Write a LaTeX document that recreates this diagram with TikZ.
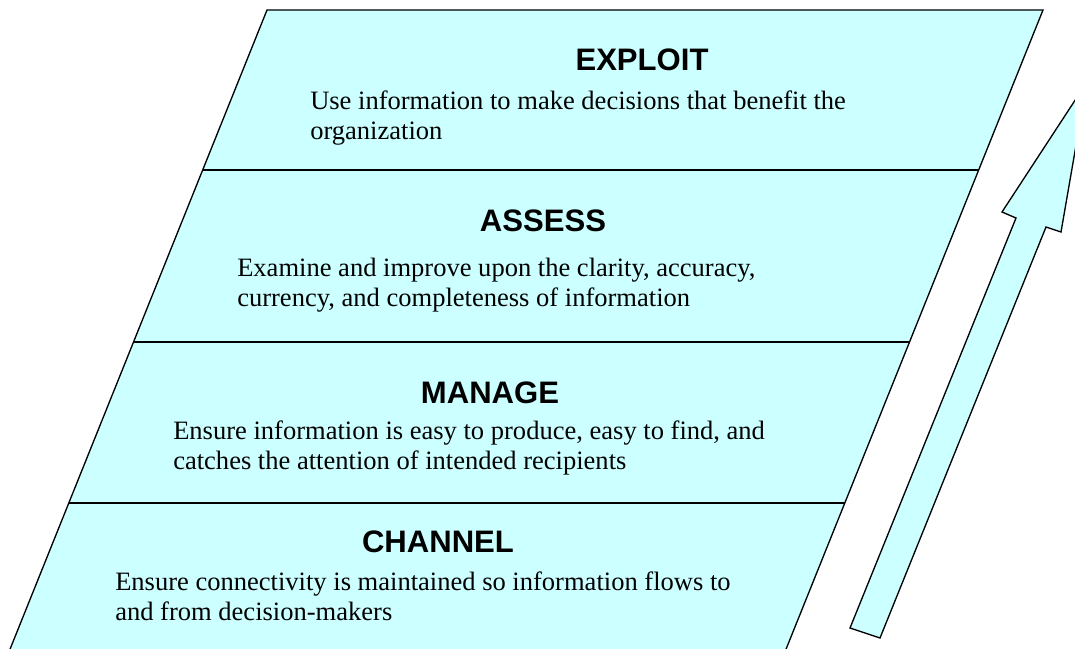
\documentclass[tikz,border=0pt]{standalone}
\usepackage{fontspec}
\setmainfont{Liberation Serif}
\newfontfamily\headfont{Liberation Sans}
\usepackage{tikz}
\usetikzlibrary{calc}
\usepackage{xcolor}
\definecolor{paleblue}{HTML}{CCFFFF}

\begin{document}
\begin{tikzpicture}[
  x=0.75pt,y=-0.75pt,
  tier/.style={draw=black,fill=paleblue,line width=1pt,line join=miter},
  divider/.style={draw=black,line width=1pt},
  title/.style={font=\headfont\bfseries\fontsize{23.3}{27}\selectfont,anchor=base,inner sep=0pt},
  body/.style={font=\fontsize{19.9}{22.5}\selectfont,align=left,anchor=base west,inner sep=0pt}
]
\useasboundingbox (0,0) rectangle (1075,649);
\clip (0,0) rectangle (1075,649);
% slanted band, runs past the lower edge
\coordinate (tl) at (267,10);
\coordinate (tr) at (1043,10);
\coordinate (bl) at (-10.4,700);
\coordinate (br) at (765.6,700);
\draw[tier] (tl) -- (tr) -- (br) -- (bl) -- cycle;
% dividers between the tiers
\foreach \y/\name in {170/one,342/two,503/three}{
  \coordinate (\name l) at ($(tl)!{(\y-10)/690}!(bl)$);
  \coordinate (\name r) at ($(tr)!{(\y-10)/690}!(br)$);
  \draw[divider] (\name l) -- (\name r);
}
% tiers (body nodes sit on the baseline of their last line)
\node[title] (exploit) at (642,71) {EXPLOIT};
\node[body] (exploitTxt) at (310,140) {Use information to make decisions that benefit the\\organization};
\node[title] (assess) at (543,232) {ASSESS};
\node[body] (assessTxt) at (237,306) {Examine and improve upon the clarity, accuracy,\\currency, and completeness of information};
\node[title] (manage) at (490,403) {MANAGE};
\node[body] (manageTxt) at (173,469) {Ensure information is easy to produce, easy to find, and\\catches the attention of intended recipients};
\node[title] (channel) at (438,552) {CHANNEL};
\node[body] (channelTxt) at (115,620) {Ensure connectivity is maintained so information flows to\\and from decision-makers};
% rising arrow
\draw[tier] (850,628) -- (1016,218) -- (1002,212) -- (1087,82) -- (1061,232)
  -- (1046,227) -- (880,638) -- cycle;
\end{tikzpicture}
\end{document}
